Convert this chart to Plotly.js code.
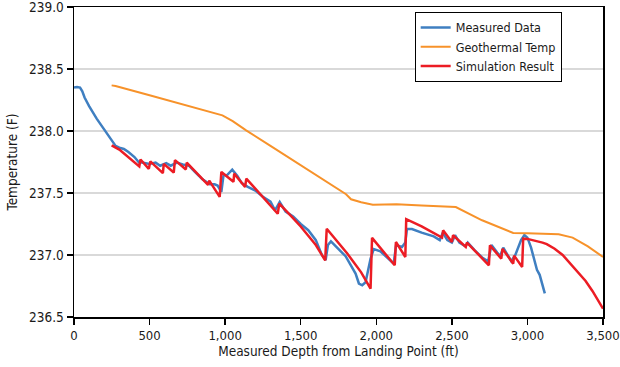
<!DOCTYPE html>
<html>
<head>
<meta charset="utf-8">
<script src="https://cdn.plot.ly/plotly-3.0.1.min.js"></script>
<style>
  html, body { margin: 0; padding: 0; background: #fff; }
  #chart { width: 620px; height: 367px; }
</style>
</head>
<body>
<div id="chart"></div>
<script>
const seriesNames = ["Measured Data", "Geothermal Temp", "Simulation Result"];

const measuredDepth = [0, 20, 40, 55, 70, 100, 150, 200, 250, 275, 300, 330, 360, 400, 430, 450, 500, 540, 570, 610, 640, 680, 720, 760, 800, 850, 900, 930, 950, 975, 990, 1010, 1047, 1080, 1110, 1150, 1200, 1250, 1300, 1330, 1361, 1400, 1450, 1500, 1550, 1600, 1640, 1665, 1680, 1700, 1797, 1863, 1885, 1907, 1929, 1962, 1983, 2027, 2115, 2131, 2170, 2192, 2203, 2236, 2300, 2380, 2420, 2440, 2470, 2500, 2521, 2550, 2590, 2605, 2650, 2700, 2740, 2762, 2800, 2820, 2840, 2870, 2893, 2920, 2958, 2980, 3000, 3024, 3063, 3081, 3115];
const measuredTemp = [238.35, 238.355, 238.35, 238.32, 238.27, 238.20, 238.10, 238.01, 237.93, 237.88, 237.865, 237.855, 237.83, 237.79, 237.745, 237.745, 237.735, 237.745, 237.72, 237.74, 237.72, 237.745, 237.73, 237.72, 237.67, 237.61, 237.57, 237.57, 237.56, 237.51, 237.65, 237.64, 237.688, 237.64, 237.58, 237.55, 237.52, 237.47, 237.43, 237.36, 237.427, 237.35, 237.31, 237.25, 237.20, 237.12, 237.00, 236.96, 237.08, 237.11, 236.99, 236.85, 236.77, 236.756, 236.78, 236.97, 237.047, 237.03, 236.93, 237.08, 237.065, 237.10, 237.21, 237.21, 237.18, 237.15, 237.12, 237.18, 237.12, 237.10, 237.16, 237.10, 237.07, 237.10, 237.04, 236.98, 236.95, 237.08, 237.02, 236.99, 237.06, 237.00, 236.95, 237.00, 237.12, 237.16, 237.14, 237.06, 236.88, 236.84, 236.69];

const geoDepth = [249, 275, 500, 800, 982, 1050, 1139, 1300, 1500, 1741, 1800, 1833, 1900, 1977, 2134, 2300, 2526, 2700, 2906, 3000, 3207, 3299, 3400, 3500];
const geoTemp = [238.368, 238.363, 238.288, 238.187, 238.126, 238.08, 238.005, 237.88, 237.723, 237.535, 237.49, 237.449, 237.425, 237.406, 237.409, 237.40, 237.387, 237.28, 237.178, 237.175, 237.167, 237.140, 237.07, 236.984];

const simDepth = [249, 300, 432, 440, 495, 505, 588, 594, 660, 668, 740, 746, 887, 895, 964, 975, 1055, 1060, 1132, 1140, 1348, 1358, 1440, 1500, 1600, 1662, 1672, 1808, 1900, 1962, 1972, 2122, 2130, 2192, 2198, 2300, 2435, 2442, 2500, 2508, 2592, 2600, 2745, 2752, 2827, 2835, 2906, 2912, 2965, 2972, 3000, 3050, 3100, 3128, 3180, 3233, 3285, 3338, 3385, 3430, 3465, 3500];
const simTemp = [237.884, 237.85, 237.715, 237.77, 237.695, 237.755, 237.660, 237.735, 237.665, 237.765, 237.69, 237.745, 237.565, 237.60, 237.469, 237.67, 237.59, 237.656, 237.548, 237.616, 237.333, 237.414, 237.31, 237.23, 237.08, 236.957, 237.212, 237.012, 236.86, 236.729, 237.138, 236.917, 237.105, 236.984, 237.289, 237.23, 237.140, 237.199, 237.105, 237.159, 237.065, 237.10, 236.917, 237.078, 236.97, 237.05, 236.93, 236.995, 236.903, 237.132, 237.13, 237.118, 237.10, 237.088, 237.05, 237.00, 236.93, 236.86, 236.79, 236.71, 236.64, 236.567];

const xTickVals = [0, 500, 1000, 1500, 2000, 2500, 3000, 3500];
const xTickText = ["0", "500", "1,000", "1,500", "2,000", "2,500", "3,000", "3,500"];
const yTickVals = [236.5, 237.0, 237.5, 238.0, 238.5, 239.0];
const yTickText = ["236.5", "237.0", "237.5", "238.0", "238.5", "239.0"];

const FONT = '"Liberation Sans Narrow", "Arial Narrow", "DejaVu Sans Condensed", sans-serif';
const FS = 13.5;

const traces = [
  { x: measuredDepth, y: measuredTemp, name: seriesNames[0], mode: 'lines',
    line: { color: '#3f7fc1', width: 2.5 } },
  { x: geoDepth, y: geoTemp, name: seriesNames[1], mode: 'lines',
    line: { color: '#f7922a', width: 2 } },
  { x: simDepth, y: simTemp, name: seriesNames[2], mode: 'lines',
    line: { color: '#ec1c24', width: 2.5, shape: 'linear' } }
];

const layout = {
  width: 620, height: 367,
  margin: { l: 74, r: 17, t: 7, b: 50 },
  paper_bgcolor: '#ffffff', plot_bgcolor: '#ffffff',
  font: { family: FONT, size: FS, color: '#1a1a1a' },
  showlegend: true,
  legend: {
    x: 0.644, y: 0.984, xanchor: 'left', yanchor: 'top',
    bgcolor: '#ffffff', bordercolor: '#000000', borderwidth: 1,
    font: { family: FONT, size: 12.5, color: '#1a1a1a' },
    itemwidth: 30, tracegroupgap: 0
  },
  xaxis: {
    range: [0, 3500], tickvals: xTickVals, ticktext: xTickText,
    showline: true, linecolor: '#000', linewidth: 1.5, mirror: true,
    ticks: 'outside', ticklen: 6, tickcolor: '#000', tickwidth: 1.5,
    ticklabeloverflow: 'allow',
    showgrid: false, zeroline: false,
    title: { text: 'Measured Depth from Landing Point (ft)', font: { family: FONT, size: FS }, standoff: 4 },
    tickfont: { family: FONT, size: 13 }
  },
  yaxis: {
    range: [236.5, 239.0], tickvals: yTickVals, ticktext: yTickText,
    showline: true, linecolor: '#000', linewidth: 1.5, mirror: true,
    ticks: 'outside', ticklen: 6, tickcolor: '#000', tickwidth: 1.5,
    ticklabeloverflow: 'allow',
    showgrid: true, gridcolor: '#d9d9d9', gridwidth: 2, zeroline: false,
    title: { text: 'Temperature (F)', font: { family: FONT, size: FS }, standoff: 8 },
    tickfont: { family: FONT, size: FS }
  }
};

Plotly.newPlot('chart', traces, layout, { displayModeBar: false, staticPlot: true });
</script>
</body>
</html>
